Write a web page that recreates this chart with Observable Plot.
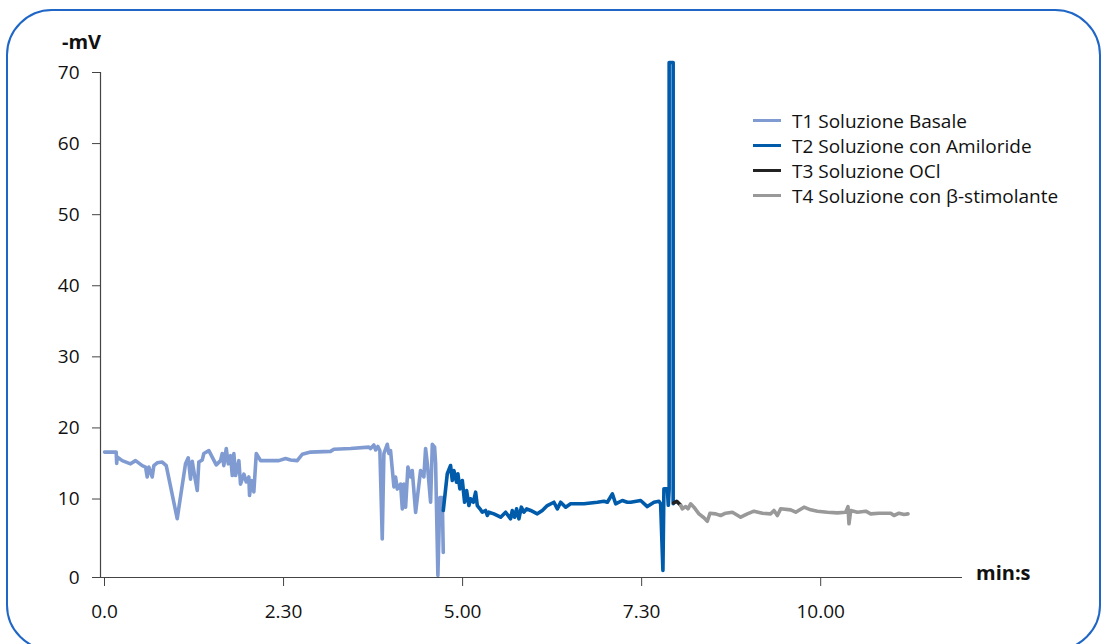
<!DOCTYPE html>
<html><head><meta charset="utf-8">
<script src="https://cdn.jsdelivr.net/npm/d3@7"></script>
<script src="https://cdn.jsdelivr.net/npm/@observablehq/plot@0.6"></script>
<style>
body{margin:0;background:#fff;}
#wrap{position:relative;width:1101px;height:644px;overflow:hidden;font-family:"Open Sans",sans-serif;color:#111;}
#frame{position:absolute;left:6px;top:9px;width:1095px;height:642px;border:2px solid #1f66c6;border-radius:46px;box-sizing:border-box;pointer-events:none;}
#chart{position:absolute;left:0;top:0;}
.lab{position:absolute;font-weight:700;font-size:20px;line-height:1;white-space:nowrap;}
#legend{position:absolute;left:753px;top:108px;font-size:19px;}
.row{display:flex;align-items:center;height:25px;white-space:nowrap;}
.sw{width:28px;height:3.5px;margin-right:11px;}
</style></head>
<body><div id="wrap"><div id="chart"></div><div id="frame"></div>
<div class="lab" style="left:62px;top:32px;">-mV</div>
<div class="lab" style="left:976px;top:563px;">min:s</div>
<div id="legend"></div></div>
<script>
// Series names and colours
const seriesNames = ["T1 Soluzione Basale", "T2 Soluzione con Amiloride", "T3 Soluzione OCl", "T4 Soluzione con β-stimolante"];
const seriesColors = ["#7f9bd1", "#005bab", "#222222", "#999999"];

// Axis ticks (time in minutes, labels as min:s)
const xTicks = [0, 2.5, 5, 7.5, 10];
const xTickLabels = ["0.0", "2.30", "5.00", "7.30", "10.00"];
const yTicks = [0, 10, 20, 30, 40, 50, 60, 70];
const yTickLabels = ["0", "10", "20", "30", "40", "50", "60", "70"];

// T1 basal solution
const t1Time = [0.0, 0.163, 0.170, 0.177, 0.247, 0.363, 0.433, 0.527, 0.573, 0.596, 0.619, 0.666, 0.689, 0.736, 0.806, 0.862, 1.015, 1.131, 1.169, 1.201, 1.225, 1.261, 1.295, 1.317, 1.365, 1.387, 1.457, 1.560, 1.620, 1.644, 1.666, 1.700, 1.728, 1.760, 1.784, 1.806, 1.830, 1.876, 1.899, 1.946, 1.979, 2.015, 2.025, 2.053, 2.085, 2.119, 2.179, 2.434, 2.528, 2.598, 2.691, 2.761, 2.877, 3.156, 3.203, 3.436, 3.691, 3.715, 3.761, 3.785, 3.817, 3.845, 3.878, 3.901, 3.948, 3.971, 3.994, 4.041, 4.064, 4.088, 4.134, 4.158, 4.180, 4.204, 4.236, 4.274, 4.297, 4.344, 4.413, 4.459, 4.483, 4.507, 4.553, 4.577, 4.609, 4.623, 4.655, 4.683, 4.716, 4.730];
const t1Value = [16.6, 16.6, 15.0, 15.9, 15.4, 14.95, 15.4, 14.7, 14.5, 13.1, 14.5, 13.1, 14.7, 15.1, 15.2, 14.7, 7.5, 14.95, 15.8, 12.8, 15.3, 13.1, 11.2, 15.2, 15.5, 16.4, 16.8, 14.8, 15.4, 16.4, 14.7, 17.1, 14.95, 16.1, 13.3, 16.4, 13.3, 15.4, 12.1, 13.5, 12.4, 13.1, 10.5, 12.6, 11.0, 16.4, 15.4, 15.4, 15.7, 15.5, 15.4, 16.3, 16.6, 16.7, 17.0, 17.1, 17.3, 17.1, 17.6, 16.9, 17.4, 16.8, 4.9, 16.4, 17.7, 16.4, 16.8, 11.7, 13.1, 11.4, 12.1, 8.75, 12.1, 8.95, 14.5, 13.1, 14.0, 8.3, 14.0, 13.1, 17.1, 15.0, 9.6, 17.7, 17.3, 15.0, 0.25, 10.2, 10.2, 3.2];

// T2 amiloride
const t2Time = [4.730, 4.786, 4.832, 4.856, 4.878, 4.916, 4.934, 4.962, 4.996, 5.028, 5.056, 5.088, 5.112, 5.149, 5.182, 5.205, 5.242, 5.275, 5.321, 5.345, 5.367, 5.437, 5.531, 5.601, 5.670, 5.694, 5.726, 5.754, 5.786, 5.820, 5.856, 5.894, 5.950, 6.043, 6.113, 6.183, 6.275, 6.323, 6.369, 6.439, 6.508, 6.694, 6.881, 6.973, 7.021, 7.091, 7.137, 7.230, 7.300, 7.346, 7.486, 7.579, 7.672, 7.742, 7.765, 7.797, 7.811, 7.859, 7.872, 7.884, 7.884, 7.940, 7.940, 7.947];
const t2Value = [8.54, 13.55, 14.71, 12.60, 14.01, 12.36, 13.55, 11.43, 12.60, 9.59, 11.20, 9.17, 10.03, 9.59, 10.96, 9.17, 8.75, 8.32, 8.54, 7.90, 8.32, 8.11, 7.68, 8.32, 7.48, 8.54, 7.68, 8.75, 7.48, 8.96, 8.32, 8.75, 8.54, 8.11, 8.54, 9.17, 9.59, 8.75, 9.59, 8.96, 9.39, 9.39, 9.59, 9.72, 9.59, 10.73, 9.39, 9.81, 9.59, 9.59, 9.81, 9.04, 9.59, 9.72, 9.39, 0.89, 11.43, 11.43, 9.2, 11.4, 71.4, 71.4, 9.4, 9.6];

// T3 OCl
const t3Time = [7.947, 7.99, 8.045];
const t3Value = [9.5, 9.7, 9.2];

// T4 beta-stimulant
const t4Time = [8.045, 8.068, 8.115, 8.147, 8.184, 8.230, 8.300, 8.370, 8.417, 8.454, 8.533, 8.603, 8.673, 8.767, 8.883, 8.976, 9.068, 9.186, 9.302, 9.348, 9.395, 9.441, 9.581, 9.651, 9.767, 9.860, 9.954, 10.094, 10.233, 10.349, 10.381, 10.395, 10.419, 10.513, 10.629, 10.698, 10.814, 10.978, 11.024, 11.094, 11.163, 11.219];
const t4Value = [9.17, 8.75, 9.04, 8.75, 9.39, 8.96, 8.11, 7.61, 7.17, 8.19, 8.11, 7.90, 8.19, 8.32, 7.68, 8.11, 8.45, 8.19, 8.11, 8.54, 7.90, 8.75, 8.62, 8.32, 8.96, 8.62, 8.45, 8.32, 8.24, 8.32, 9.04, 6.84, 8.54, 8.32, 8.45, 8.11, 8.19, 8.19, 7.90, 8.19, 8.03, 8.11];

const times = [t1Time, t2Time, t3Time, t4Time];
const values = [t1Value, t2Value, t3Value, t4Value];
const data = [];
seriesNames.forEach((s, k) => times[k].forEach((t, i) => data.push({t, v: values[k][i], s})));

const W = 1101, H = 644, mL = 100, mR = 139, mT = 72, mB = 67;
const xDomain = [-0.056, 11.98];
// The reference's value axis draws the 0–10 interval slightly longer than the others:
// reproduce it with a scale transform that stretches values below 10.
const lowStretch = 1.104;
const yTransform = v => (v >= 10 ? v : 10 - (10 - v) * lowStretch);
const yDomain = [yTransform(0), 70];

const chart = Plot.plot({
  width: W, height: H,
  marginLeft: mL, marginRight: mR, marginTop: mT, marginBottom: mB,
  style: {fontFamily: "'Open Sans', sans-serif", fontSize: "19px", color: "#111", background: "transparent", overflow: "visible"},
  x: {domain: xDomain},
  y: {transform: yTransform, domain: yDomain},
  color: {domain: seriesNames, range: seriesColors},
  marks: [
    // axis tick values are given in the transformed space of the y scale
    Plot.axisY({ticks: yTicks.map(yTransform), tickFormat: (d, i) => yTickLabels[i], tickSize: 8, tickPadding: 13, label: null, stroke: "#444", fill: "#111"}),
    Plot.axisX({ticks: xTicks, tickFormat: (d, i) => xTickLabels[i], tickSize: 9, tickPadding: 18, label: null, stroke: "#444", fill: "#111"}),
    Plot.line(data, {x: "t", y: "v", z: "s", stroke: "s", strokeWidth: 3.6}),
    Plot.ruleX([xDomain[0]], {stroke: "#444", strokeWidth: 1.2}),
    Plot.ruleY([0], {stroke: "#444", strokeWidth: 1.2})
  ]
});
document.getElementById("chart").appendChild(chart);

const legend = document.getElementById("legend");
seriesNames.forEach((s, i) => {
  const row = document.createElement("div");
  row.className = "row";
  const sw = document.createElement("span");
  sw.className = "sw";
  sw.style.background = seriesColors[i];
  const tx = document.createElement("span");
  tx.textContent = s;
  row.appendChild(sw); row.appendChild(tx);
  legend.appendChild(row);
});
</script></body></html>
